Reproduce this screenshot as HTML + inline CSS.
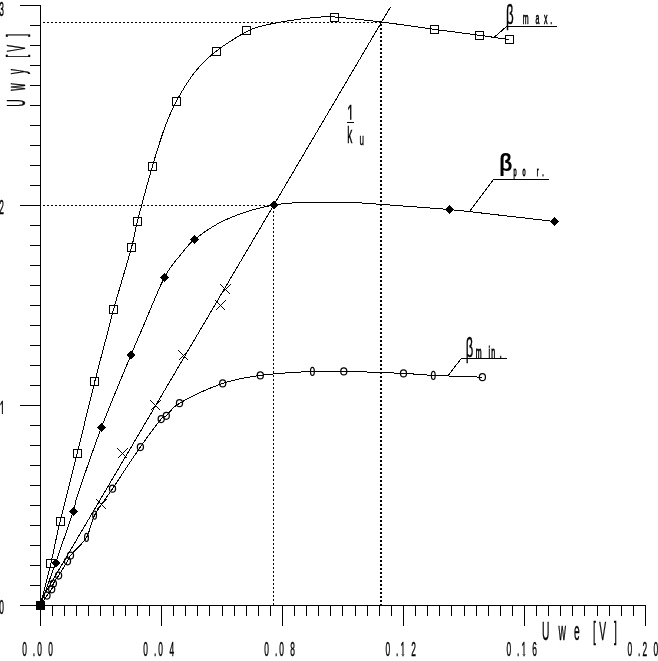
<!DOCTYPE html>
<html lang="pl"><head><meta charset="utf-8"><title>Uwy = f(Uwe)</title>
<style>
html,body{margin:0;padding:0;background:#fff}
body{width:658px;height:661px;overflow:hidden}
svg{display:block}
.ln,.ln *{fill:none;stroke:#000;shape-rendering:crispEdges}
.ln{stroke-width:1}
.fl{fill:#000;shape-rendering:crispEdges}
.ci{fill:none;stroke:#000;stroke-width:1.25}
.cr{fill:none;stroke:#000;stroke-width:1;shape-rendering:crispEdges}
.tx text{font-family:"Liberation Sans",sans-serif;fill:#000;stroke:#000;vector-effect:non-scaling-stroke}
</style></head>
<body>
<svg width="658" height="661" viewBox="0 0 658 661">
<defs><clipPath id="c1"><rect x="340" y="100" width="20" height="19.8"/></clipPath><clipPath id="c2"><rect x="0" y="395" width="10" height="19"/></clipPath></defs>
<rect width="658" height="661" fill="#fff"/>
<g class="ln">
<path d="M40.5 5V626"/>
<path d="M20 605.5H646"/>
<path d="M20 5.5H41M30 25.5H41M30 45.5H41M30 65.5H41M30 85.5H41M30 105.5H41M30 125.5H41M30 145.5H41M30 165.5H41M30 185.5H41M20 205.5H41M30 225.5H41M30 245.5H41M30 265.5H41M30 285.5H41M30 305.5H41M30 325.5H41M30 345.5H41M30 365.5H41M30 385.5H41M20 405.5H41M30 425.5H41M30 445.5H41M30 465.5H41M30 485.5H41M30 505.5H41M30 525.5H41M30 545.5H41M30 565.5H41M30 585.5H41M20 605.5H41"/>
<path d="M40.5 605V626M52.5 605V616M64.5 605V616M76.5 605V616M88.5 605V616M100.5 605V616M113.5 605V616M125.5 605V616M137.5 605V616M149.5 605V616M161.5 605V626M173.5 605V616M185.5 605V616M197.5 605V616M209.5 605V616M222.5 605V616M234.5 605V616M246.5 605V616M258.5 605V616M270.5 605V616M282.5 605V626M294.5 605V616M306.5 605V616M318.5 605V616M330.5 605V616M342.5 605V616M355.5 605V616M367.5 605V616M379.5 605V616M391.5 605V616M403.5 605V626M415.5 605V616M427.5 605V616M439.5 605V616M451.5 605V616M464.5 605V616M476.5 605V616M488.5 605V616M500.5 605V616M512.5 605V616M524.5 605V626M536.5 605V616M548.5 605V616M560.5 605V616M572.5 605V616M584.5 605V616M597.5 605V616M609.5 605V616M621.5 605V616M633.5 605V616M645.5 605V626"/>
<path d="M43 22.5H381" stroke-dasharray="2 2"/>
<path d="M43 205.5H274" stroke-dasharray="2 2"/>
<path d="M273.5 207V605" stroke-dasharray="2 2"/>
<path d="M381 24V605" stroke-width="2" stroke-dasharray="2 2"/>
</g>
<g class="ln">
<path d="M40.5 605.5C42.2 598.5 47.6 577.3 50.9 563.2C54.2 549.1 55.8 539.3 60.2 521.0C64.6 502.7 71.4 476.7 77.2 453.4C83.0 430.1 89.6 402.0 94.8 381.4C100.0 360.8 105.2 342.0 108.3 330.0C111.4 318.0 109.7 323.0 113.6 309.2C117.5 295.4 127.6 261.8 131.6 247.2C135.6 232.6 133.9 234.9 137.4 221.4C140.9 207.9 147.8 182.0 152.4 166.3C157.0 150.6 161.0 137.9 165.0 127.0C169.0 116.1 171.5 110.2 176.5 101.0C181.5 91.8 188.4 80.3 195.0 72.0C201.6 63.7 207.4 58.1 216.0 51.4C224.6 44.7 239.2 35.7 246.5 31.6C253.8 27.5 254.2 28.2 260.0 26.6C265.8 25.0 272.7 23.4 281.0 22.0C289.3 20.6 301.1 18.8 310.0 18.0C318.9 17.2 322.7 16.3 334.5 17.0C346.3 17.7 370.1 20.8 381.0 22.0C391.9 23.2 391.2 23.3 400.0 24.5C408.8 25.7 420.7 27.5 434.0 29.3C447.3 31.1 469.7 33.9 479.7 35.3C489.7 36.6 489.8 36.8 494.0 37.4C498.2 38.0 502.4 38.6 505.0 38.9C507.6 39.2 508.8 39.3 509.5 39.4"/>
<path d="M40.5 605.5C43.0 598.4 50.0 578.7 55.5 563.0C61.0 547.3 69.5 522.8 73.2 511.5C76.9 500.2 73.0 509.0 77.7 495.0C82.4 481.0 92.6 450.6 101.5 427.3C110.4 404.0 124.3 371.2 131.0 355.0C137.7 338.8 136.1 342.9 141.7 330.0C147.3 317.1 158.1 289.7 164.5 277.3C170.9 264.9 175.0 261.8 180.0 255.5C185.0 249.2 188.1 244.8 194.4 239.5C200.7 234.2 209.5 228.2 218.0 223.6C226.5 219.0 236.0 215.3 245.3 212.2C254.6 209.1 264.7 206.6 273.8 205.0C282.9 203.4 290.6 203.0 300.0 202.5C309.4 202.0 320.8 202.0 330.0 202.0C339.2 202.0 346.4 202.2 355.0 202.6C363.6 203.0 365.6 203.2 381.4 204.4C397.2 205.6 430.7 207.9 449.6 209.6C468.5 211.3 477.5 212.6 495.0 214.6C512.5 216.6 544.5 220.3 554.4 221.5"/>
<path d="M40.5 605.5C41.6 603.8 45.1 598.2 47.0 595.5C48.9 592.8 50.6 591.3 51.7 589.3C52.8 587.3 52.2 585.8 53.4 583.5C54.5 581.2 56.2 579.2 58.6 575.5C61.0 571.8 65.5 564.6 67.5 561.3C69.5 558.0 67.3 559.5 70.5 555.5C73.7 551.5 82.5 544.1 86.5 537.4C90.5 530.7 90.3 523.3 94.6 515.2C98.9 507.1 104.9 500.1 112.5 488.7C120.1 477.3 132.3 458.6 140.4 447.0C148.5 435.4 156.9 424.2 161.2 419.0C165.5 413.8 163.2 418.4 166.3 415.8C169.4 413.2 170.1 408.6 179.5 403.2C188.9 397.8 209.2 388.0 222.7 383.4C236.2 378.8 245.4 377.4 260.3 375.4C275.2 373.4 298.5 372.1 312.4 371.4C326.3 370.7 328.6 371.1 343.8 371.4C359.0 371.7 388.6 372.7 403.5 373.4C418.4 374.1 420.2 374.8 433.3 375.4C446.4 376.0 474.2 376.9 482.4 377.2"/>
<path d="M40.5 601.0L390.5 6.9"/>
<path d="M494 37.5L506.5 26.5H556.5"/>
<path d="M470 211L493.5 179.5H549"/>
<path d="M447.6 376.2L461.3 358.5H506.6"/>
<rect x="46.5" y="559.5" width="8" height="8"/>
<rect x="56.5" y="517.5" width="8" height="8"/>
<rect x="73.5" y="449.5" width="8" height="8"/>
<rect x="90.5" y="377.5" width="8" height="8"/>
<rect x="109.5" y="305.5" width="8" height="8"/>
<rect x="127.5" y="243.5" width="8" height="8"/>
<rect x="133.5" y="217.5" width="8" height="8"/>
<rect x="148.5" y="162.5" width="8" height="8"/>
<rect x="172.5" y="97.5" width="8" height="8"/>
<rect x="212.5" y="47.5" width="8" height="8"/>
<rect x="242.5" y="26.5" width="8" height="8"/>
<rect x="330.5" y="13.5" width="8" height="8"/>
<rect x="430.5" y="25.5" width="8" height="8"/>
<rect x="475.5" y="31.5" width="8" height="8"/>
<rect x="505.5" y="35.5" width="8" height="8"/>
</g>
<g class="fl">
<rect x="36" y="601" width="9" height="9"/>
<path d="M55.5 558.5l4.5 4.5l-4.5 4.5l-4.5 -4.5z"/>
<path d="M73.2 507.0l4.5 4.5l-4.5 4.5l-4.5 -4.5z"/>
<path d="M101.5 422.8l4.5 4.5l-4.5 4.5l-4.5 -4.5z"/>
<path d="M131.0 350.5l4.5 4.5l-4.5 4.5l-4.5 -4.5z"/>
<path d="M164.5 272.8l4.5 4.5l-4.5 4.5l-4.5 -4.5z"/>
<path d="M194.4 235.0l4.5 4.5l-4.5 4.5l-4.5 -4.5z"/>
<path d="M273.8 200.5l4.5 4.5l-4.5 4.5l-4.5 -4.5z"/>
<path d="M449.6 205.1l4.5 4.5l-4.5 4.5l-4.5 -4.5z"/>
<path d="M554.4 217.0l4.5 4.5l-4.5 4.5l-4.5 -4.5z"/>
</g>
<g class="cr">
<path d="M96.5 499.5l10 10M106.5 499.5l-10 10"/>
<path d="M117.5 448.5l10 10M127.5 448.5l-10 10"/>
<path d="M150.5 400.5l10 10M160.5 400.5l-10 10"/>
<path d="M178.5 350.5l10 10M188.5 350.5l-10 10"/>
<path d="M215.5 300.5l10 10M225.5 300.5l-10 10"/>
<path d="M220.5 284.5l10 10M230.5 284.5l-10 10"/>
</g>
<g class="ci">
<ellipse cx="47.0" cy="595.5" rx="3.05" ry="3.5"/>
<ellipse cx="51.7" cy="589.3" rx="3.05" ry="3.5"/>
<ellipse cx="53.4" cy="583.5" rx="3.05" ry="3.5"/>
<ellipse cx="58.6" cy="575.5" rx="3.05" ry="3.5"/>
<ellipse cx="67.5" cy="561.3" rx="3.05" ry="3.5"/>
<ellipse cx="70.5" cy="555.5" rx="3.05" ry="3.5"/>
<ellipse cx="86.5" cy="537.4" rx="1.9" ry="4" stroke-width="1.2"/>
<ellipse cx="94.6" cy="515.2" rx="1.9" ry="4" stroke-width="1.2"/>
<ellipse cx="112.5" cy="488.7" rx="3.05" ry="3.5"/>
<ellipse cx="140.4" cy="447.0" rx="3.05" ry="3.5"/>
<ellipse cx="161.2" cy="419.0" rx="3.05" ry="3.5"/>
<ellipse cx="166.3" cy="415.8" rx="3.05" ry="3.5"/>
<ellipse cx="179.5" cy="403.2" rx="3.05" ry="3.5"/>
<ellipse cx="222.7" cy="383.4" rx="3.05" ry="3.5"/>
<ellipse cx="260.3" cy="375.4" rx="3.05" ry="3.5"/>
<ellipse cx="312.4" cy="371.4" rx="1.9" ry="4" stroke-width="1.2"/>
<ellipse cx="343.8" cy="371.4" rx="3.05" ry="3.5"/>
<ellipse cx="403.5" cy="373.4" rx="3.05" ry="3.5"/>
<ellipse cx="433.3" cy="375.4" rx="1.9" ry="4" stroke-width="1.2"/>
<ellipse cx="482.4" cy="377.2" rx="3.05" ry="3.5"/>
</g>
<g class="tx">
<text transform="scale(0.43,1)" x="51.8 76.4 86.7 112.0" y="656.0" font-size="19.5" stroke-width="0.35">0.00</text>
<text transform="scale(0.43,1)" x="333.3 357.9 368.2 393.9" y="656.0" font-size="19.5" stroke-width="0.35">0.04</text>
<text transform="scale(0.43,1)" x="614.8 639.4 649.7 675.0" y="656.0" font-size="19.5" stroke-width="0.35">0.08</text>
<clipPath id="c6"><path clip-rule="evenodd" d="M380.8 630h50v31h-50zM400.0 654.2H402.42v3H400.0zM403.56 654.2h2.2v3h-2.2z"/></clipPath>
<g clip-path="url(#c6)">
<text transform="scale(0.43,1)" x="896.3 920.9 931.4 956.3" y="656.0" font-size="19.5" stroke-width="0.35">0.12</text>
</g>
<clipPath id="c7"><path clip-rule="evenodd" d="M501.8 630h50v31h-50zM521.1 654.2H523.47v3H521.1zM524.61 654.2h2.2v3h-2.2z"/></clipPath>
<g clip-path="url(#c7)">
<text transform="scale(0.43,1)" x="1177.8 1202.4 1212.9 1237.8" y="656.0" font-size="19.5" stroke-width="0.35">0.16</text>
</g>
<text transform="scale(0.43,1)" x="1459.4 1483.9 1494.0 1519.6" y="656.0" font-size="19.5" stroke-width="0.35">0.20</text>
<text transform="scale(0.43,1)" x="-1.7" y="15.5" font-size="19.5" stroke-width="0.35">3</text>
<text transform="scale(0.43,1)" x="-1.9" y="214.5" font-size="19.5" stroke-width="0.35">2</text>
<text transform="scale(0.43,1)" x="-1.7" y="614.5" font-size="19.5" stroke-width="0.35">0</text>
<g clip-path="url(#c2)">
<text transform="scale(0.4,1)" x="-0.6" y="415.8" font-size="22.4" stroke-width="0.5">1</text>
</g>
<text transform="scale(0.41,1)" x="1322.2 1327.1 1362.2 1399.9 1404.8 1446.5 1461.6 1497.6" y="639.6" font-size="25" stroke-width="0.35">U we [V]</text>
<g transform="translate(0,661) rotate(-90)">
<text transform="scale(0.41,1)" x="1351.7 1356.6 1391.0 1430.9 1435.8 1471.4 1486.2 1522.7" y="24.6" font-size="25.2" stroke-width="0.35">U wy [V]</text>
</g>
<text transform="scale(0.48,1)" x="1054.3" y="24.0" font-size="27.8" stroke-width="0.35">β</text>
<text transform="scale(0.445,1)" x="1174.9 1203.4 1222.5 1236.5" y="24.1" font-size="15.8" stroke-width="0.5">max.</text>
<text transform="scale(0.95,1)" x="525.2" y="171.4" font-size="23.15" font-weight="bold" stroke-width="0">β</text>
<text transform="scale(0.45,1)" x="1141.2 1161.0 1193.0 1204.9" y="175.8" font-size="12.3" stroke-width="0.6">por.</text>
<text transform="scale(0.46,1)" x="1012.4" y="356.6" font-size="28.4" stroke-width="0.35">β</text>
<text transform="scale(0.445,1)" x="1069.1 1097.8 1103.9 1123.3" y="358.0" font-size="15.8" stroke-width="0.6">min.</text>
<g clip-path="url(#c1)">
<text transform="scale(0.52,1)" x="667.4" y="121.8" font-size="23.8" stroke-width="0.35">1</text>
</g>
<text transform="scale(0.43,1)" x="807.5" y="142.7" font-size="23.4" stroke-width="0.35">k</text>
<text transform="scale(0.5,1)" x="719.0" y="144.8" font-size="16" stroke-width="0.35">u</text>
</g>
<path class="ln" d="M347 122.5H354"/>
</svg>
</body></html>
